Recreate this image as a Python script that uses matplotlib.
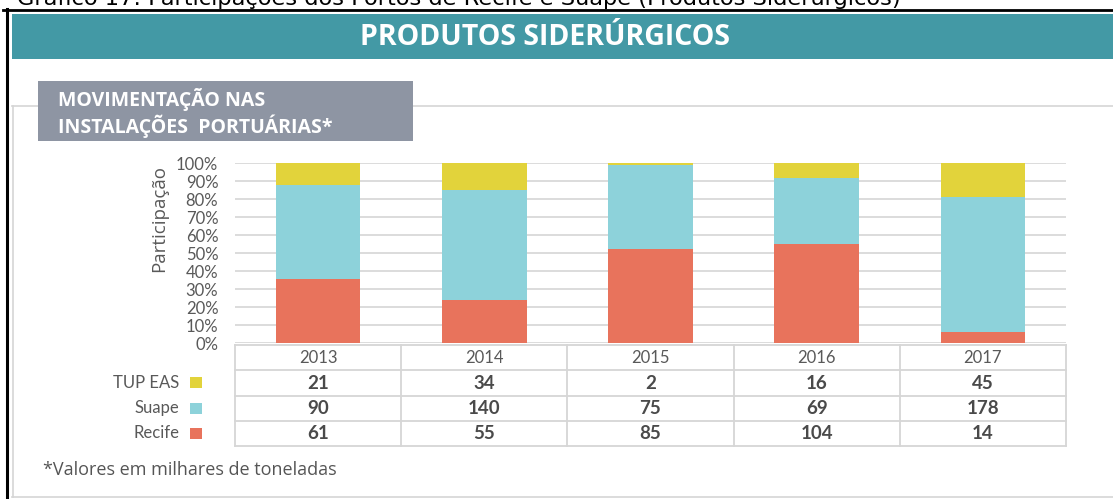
import numpy as np
import matplotlib.pyplot as plt
from matplotlib.patches import Rectangle

years = ['2013', '2014', '2015', '2016', '2017']
series = ['TUP EAS', 'Suape', 'Recife']
tup_eas = [21, 34, 2, 16, 45]
suape = [90, 140, 75, 69, 178]
recife = [61, 55, 85, 104, 14]
colors = {'TUP EAS': '#E2D33B', 'Suape': '#8DD2DA', 'Recife': '#E8735C'}

W, H = 1113, 499
fig = plt.figure(figsize=(W / 100, H / 100), dpi=100)
fig.patch.set_facecolor('white')
plt.rcParams['font.family'] = ['Lato', 'DejaVu Sans']

def fx(px):
    return px / W

def fy(py):
    return 1 - py / H

# frame lines and header (figure pixel coords)
bg = fig.add_axes([0, 0, 1, 1])
bg.set_xlim(0, W)
bg.set_ylim(H, 0)
bg.axis('off')
bg.text(17, 4.5, 'Gráfico 17: Participações dos Portos de Recife e Suape (Produtos Siderúrgicos)',
        fontsize=16.2, family='DejaVu Sans', va='baseline', ha='left', color='black')
bg.plot([3, W], [9.5, 9.5], color='black', lw=2.0, zorder=5)
bg.plot([6.5, 6.5], [8.5, H], color='black', lw=2.2, zorder=5)
bg.add_patch(Rectangle((12, 14), W - 12, 45, color='#4399A5', lw=0))
bg.text(545, 37, 'PRODUTOS SIDERÚRGICOS', family='Open Sans', fontweight='bold',
        fontsize=20.5, color='white', ha='center', va='center')
bg.plot([12, W], [106, 106], color='#D5D5D5', lw=1.2, zorder=1)
bg.plot([12.5, 12.5], [106, 497], color='#D5D5D5', lw=1.2, zorder=1)
bg.plot([12, W], [497, 497], color='#D5D5D5', lw=1.2, zorder=1)
bg.add_patch(Rectangle((38, 81), 375, 60, color='#8E95A3', lw=0, zorder=3))
bg.text(58, 99, 'MOVIMENTAÇÃO NAS', family='Open Sans', fontweight='bold',
        fontsize=14, color='white', ha='left', va='center', zorder=4)
bg.text(58, 126, 'INSTALAÇÕES  PORTUÁRIAS*', family='Open Sans', fontweight='bold',
        fontsize=14, color='white', ha='left', va='center', zorder=4)
bg.text(43, 470, '*Valores em milhares de toneladas', family='Open Sans', fontsize=13,
        color='#555555', ha='left', va='center')

# stacked percentage bars
x0, x1, ytop, ybot = 235, 1066, 163, 343
ax = fig.add_axes([fx(x0), fy(ybot), fx(x1) - fx(x0), fy(ytop) - fy(ybot)])
vals = {'TUP EAS': np.array(tup_eas, float), 'Suape': np.array(suape, float),
        'Recife': np.array(recife, float)}
total = vals['TUP EAS'] + vals['Suape'] + vals['Recife']
x = np.arange(len(years))
bottom = np.zeros(len(years))
for s in ['Recife', 'Suape', 'TUP EAS']:
    share = vals[s] / total
    ax.bar(x, share, 0.51, bottom=bottom, color=colors[s], zorder=2)
    bottom += share
ax.set_xlim(-0.5, len(years) - 0.5)
ax.set_ylim(0, 1)
ax.set_yticks(np.arange(0, 1.01, 0.1))
ax.set_yticklabels([f'{int(round(t * 100))}%' for t in np.arange(0, 1.01, 0.1)],
                   fontsize=12, color='#595959')
ax.tick_params(axis='y', length=0, pad=12)
ax.set_xticks([])
ax.grid(axis='y', color='#D9D9D9', lw=1.3, zorder=0)
for sp in ax.spines.values():
    sp.set_visible(False)
ax.set_ylabel('Participação', family='Open Sans', fontsize=13.5, color='#595959')
ax.yaxis.set_label_coords(-0.08, 0.69)

# data table
t0, t1 = 345, 446
tab = fig.add_axes([fx(x0), fy(t1), fx(x1) - fx(x0), fy(t0) - fy(t1)])
tab.set_xlim(-0.5, len(years) - 0.5)
tab.set_ylim(4, 0)
tab.axis('off')
lc = '#D6D6D6'
for r in range(5):
    tab.plot([-0.5, len(years) - 0.5], [r, r], color=lc, lw=1.3, clip_on=False)
for c in range(len(years) + 1):
    tab.plot([c - 0.5, c - 0.5], [0, 4], color=lc, lw=1.3, clip_on=False)
for i, yr in enumerate(years):
    tab.text(i, 0.5, yr, ha='center', va='center', fontsize=12, color='#595959')
for r, s in enumerate(series, start=1):
    for i, v in enumerate(vals[s]):
        tab.text(i, r + 0.52, f'{int(v)}', ha='center', va='center', fontsize=13.5,
                 fontweight='bold', color='#4A4A4A')
    tab.text(-0.835, r + 0.5, s, ha='right', va='center', fontsize=12,
             color='#595959', clip_on=False)
    tab.add_patch(Rectangle((-0.772, r + 0.28), 0.072, 0.44, color=colors[s],
                            clip_on=False, lw=0))

fig.savefig('out.png', dpi=100)
